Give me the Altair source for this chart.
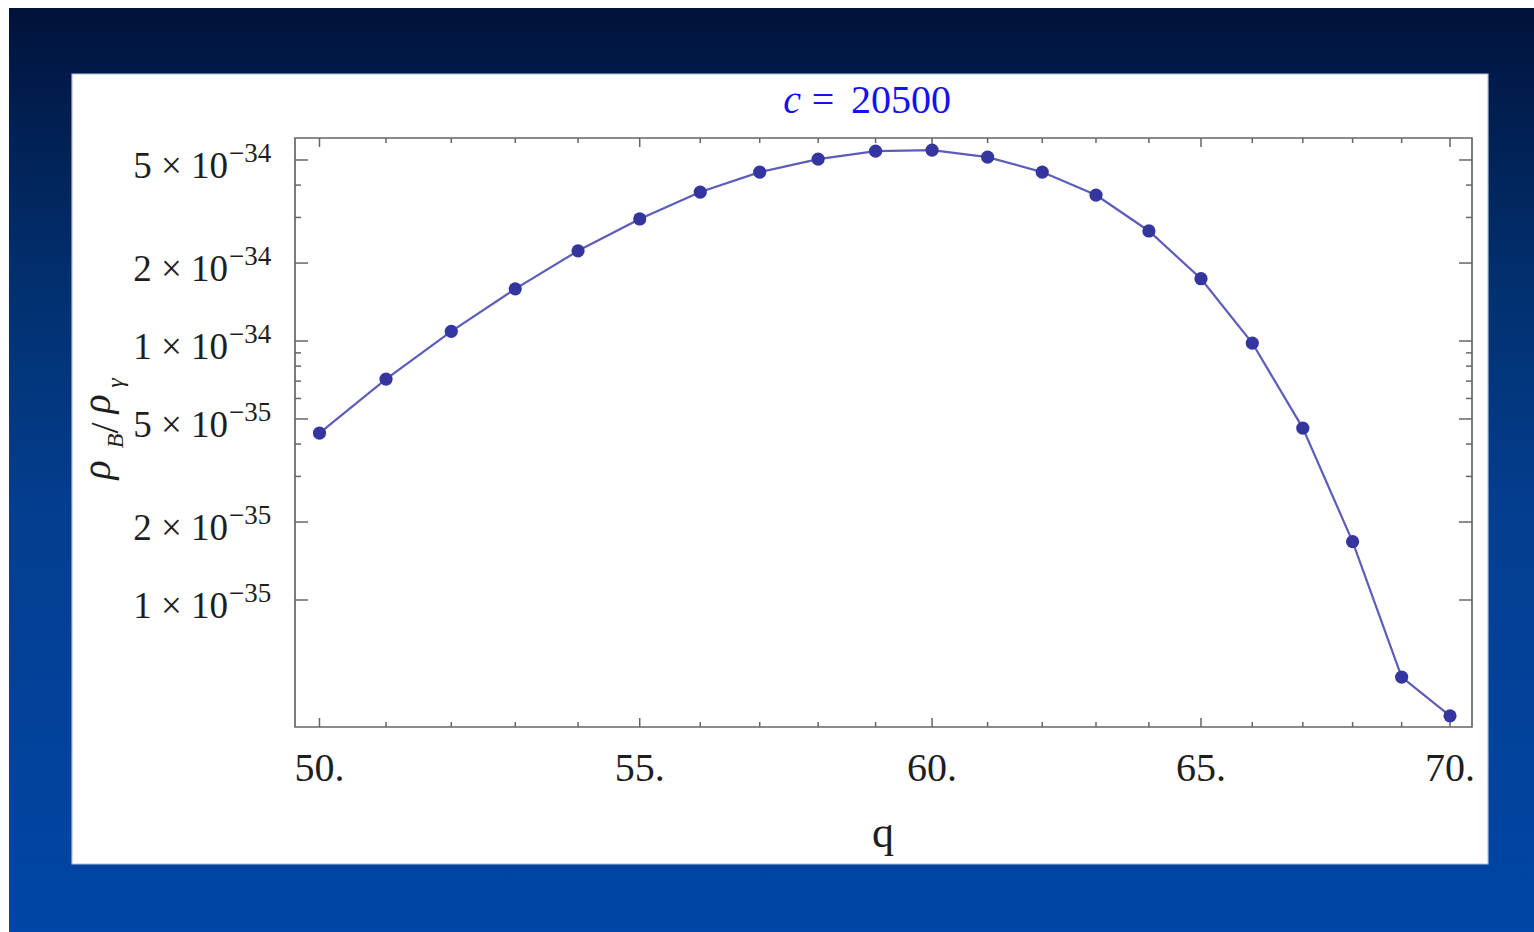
import altair as alt
import pandas as pd

# Baryon-to-photon density ratio versus q at c = 20500
q_values = list(range(50, 71))
rho_ratio = [4.41e-35, 7.13e-35, 1.09e-34, 1.59e-34, 2.23e-34, 2.96e-34, 3.76e-34,
             4.49e-34, 5.04e-34, 5.41e-34, 5.46e-34, 5.13e-34, 4.49e-34, 3.66e-34,
             2.66e-34, 1.74e-34, 9.82e-35, 4.61e-35, 1.68e-35, 5.04e-36, 3.57e-36]

# Axis ticks and labels
x_major = [50, 55, 60, 65, 70]
x_major_labels = ["50.", "55.", "60.", "65.", "70."]
x_minor = [v for v in range(50, 71) if v not in x_major]
y_major = [1e-35, 2e-35, 5e-35, 1e-34, 2e-34, 5e-34]
y_mantissa = ["1 × 10", "2 × 10", "5 × 10", "1 × 10", "2 × 10", "5 × 10"]
y_exponent = ["−35", "−35", "−35", "−34", "−34", "−34"]
y_minor = [3e-35, 4e-35, 6e-35, 7e-35, 8e-35, 9e-35, 3e-34, 4e-34]

# Plot-area geometry within the 1534x932 page
OX, OY = 295, 138
W, H = 1177, 589
SERIF = "Liberation Serif, DejaVu Serif, serif"
FRAME = "#666666"
INK = "#1e1e1e"


def px(x):
    return x - OX


def py(y):
    return y - OY


xs = alt.Scale(type="log", domain=[49.637, 70.46], nice=False)
ys = alt.Scale(type="log", domain=[3.233e-36, 6.08e-34], nice=False)

data = pd.DataFrame({"q": q_values, "rho": rho_ratio})
one = pd.DataFrame({"k": [0]})
xmaj = pd.DataFrame({"q": x_major, "label": x_major_labels})
xmin = pd.DataFrame({"q": x_minor})
ymaj = pd.DataFrame({"v": y_major, "mant": y_mantissa, "expo": y_exponent})
ymin = pd.DataFrame({"v": y_minor})

X = alt.X("q:Q", scale=xs, axis=None)
Y = alt.Y("v:Q", scale=ys, axis=None)

# Slide background and white panel
slide = alt.Chart(one).mark_rect(
    fill={
        "gradient": "linear", "x1": 0, "x2": 0, "y1": 0, "y2": 1,
        "stops": [
            {"offset": 0.0, "color": "#01123a"},
            {"offset": 0.1, "color": "#011d4e"},
            {"offset": 0.3, "color": "#02306f"},
            {"offset": 0.55, "color": "#043e90"},
            {"offset": 1.0, "color": "#0046a6"},
        ],
    }
).encode(x=alt.value(px(9)), x2=alt.value(px(1534)), y=alt.value(py(8)), y2=alt.value(py(932)))

panel = alt.Chart(one).mark_rect(fill="white", stroke="#b4bfd8", strokeWidth=1.2).encode(
    x=alt.value(px(72)), x2=alt.value(px(1488)), y=alt.value(py(74)), y2=alt.value(py(864))
)

frame = alt.Chart(one).mark_rect(filled=False, stroke=FRAME, strokeWidth=1.7).encode(
    x=alt.value(0), x2=alt.value(W), y=alt.value(0), y2=alt.value(H)
)

# Inward ticks on all four sides
def xticks(df, length):
    bottom = alt.Chart(df).mark_rule(color=FRAME, strokeWidth=1.5).encode(
        x=X, y=alt.value(H), y2=alt.value(H - length))
    top = alt.Chart(df).mark_rule(color=FRAME, strokeWidth=1.5).encode(
        x=X, y=alt.value(0), y2=alt.value(length))
    return [bottom, top]


def yticks(df, length):
    left = alt.Chart(df).mark_rule(color=FRAME, strokeWidth=1.5).encode(
        y=Y, x=alt.value(0), x2=alt.value(length))
    right = alt.Chart(df).mark_rule(color=FRAME, strokeWidth=1.5).encode(
        y=Y, x=alt.value(W), x2=alt.value(W - length))
    return [left, right]


ticks = xticks(xmaj, 9) + xticks(xmin, 5) + yticks(ymaj, 13) + yticks(ymin, 6)

# Tick labels
xlab = alt.Chart(xmaj).mark_text(font=SERIF, fontSize=40, color=INK,
                                 align="center", baseline="alphabetic").encode(
    x=X, y=alt.value(py(781)), text="label:N")

ylab_main = alt.Chart(ymaj).mark_text(font=SERIF, fontSize=37, color=INK,
                                      align="right", baseline="alphabetic", dy=18).encode(
    y=Y, x=alt.value(px(228)), text="mant:N")
ylab_exp = alt.Chart(ymaj).mark_text(font=SERIF, fontSize=27, color=INK,
                                     align="left", baseline="alphabetic", dy=2).encode(
    y=Y, x=alt.value(px(229)), text="expo:N")

# Axis titles and plot label
xtitle = alt.Chart(one).mark_text(font=SERIF, fontSize=44, color=INK,
                                  align="center", baseline="alphabetic").encode(
    x=alt.value(px(883)), y=alt.value(py(847)), text=alt.value("q"))


def ypiece(txt, ycenter, xbase, size, italic=True):
    return alt.Chart(one).mark_text(font=SERIF, fontSize=size, color=INK,
                                    fontStyle="italic" if italic else "normal",
                                    angle=270, align="center", baseline="alphabetic").encode(
        x=alt.value(px(xbase)), y=alt.value(py(ycenter)), text=alt.value(txt))


ytitle = [
    ypiece("ρ", 470, 110, 40),
    ypiece("B", 441, 123, 24),
    ypiece("/", 428, 118, 40, italic=False),
    ypiece("ρ", 404, 110, 40),
    ypiece("γ", 383, 123, 24),
]

BLUE = "#1212f2"
title_c = alt.Chart(one).mark_text(font=SERIF, fontSize=40, color=BLUE, fontStyle="italic",
                                   align="center", baseline="alphabetic").encode(
    x=alt.value(px(792)), y=alt.value(py(113)), text=alt.value("c"))
title_eq = alt.Chart(one).mark_text(font=SERIF, fontSize=40, color=BLUE,
                                    align="center", baseline="alphabetic").encode(
    x=alt.value(px(823)), y=alt.value(py(113)), text=alt.value("="))
title_num = alt.Chart(one).mark_text(font=SERIF, fontSize=40, color=BLUE,
                                     align="left", baseline="alphabetic").encode(
    x=alt.value(px(851)), y=alt.value(py(113)), text=alt.value("20500"))

# Data series
line = alt.Chart(data).mark_line(color="#5c5cba", strokeWidth=2.2).encode(
    x=X, y=alt.Y("rho:Q", scale=ys, axis=None))
points = alt.Chart(data).mark_circle(color="#3535a0", size=175, opacity=1).encode(
    x=X, y=alt.Y("rho:Q", scale=ys, axis=None))

chart = alt.layer(
    slide, panel, *ticks, frame, xlab, ylab_main, ylab_exp, xtitle, *ytitle,
    title_c, title_eq, title_num, line, points
).properties(
    width=W, height=H,
    padding={"left": OX, "top": OY, "right": 1534 - OX - W, "bottom": 932 - OY - H},
    autosize=alt.AutoSizeParams(type="none"),
).configure_view(strokeWidth=0)

chart.save("out.html", embed_options={"renderer": "svg", "actions": False})
